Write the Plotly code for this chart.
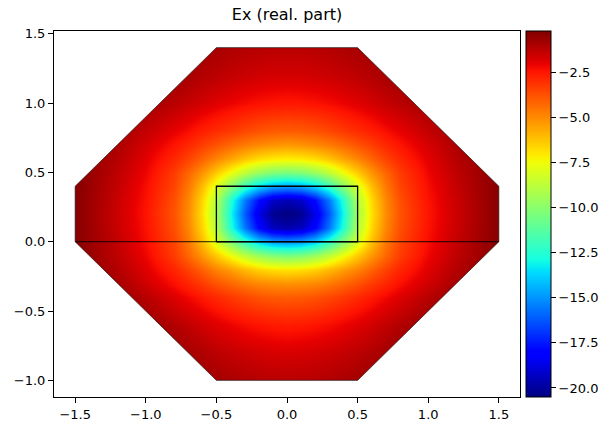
import plotly.graph_objects as go

# ---------------- data ----------------
title_text = "Ex (real. part)"

# grid columns for x >= 0 (field is mirror-symmetric in x)
x_half = [0.0, 0.1, 0.2, 0.3, 0.4, 0.5, 0.6, 0.7, 0.8, 1.0, 1.2, 1.5]
# grid rows, top to bottom
y_rows = [1.4, 1.2, 1.0, 0.8, 0.7, 0.6, 0.5, 0.4, 0.3, 0.2, 0.1, 0.0,
          -0.1, -0.2, -0.3, -0.4, -0.6, -0.8, -1.0]
# Ex values (real part) at (x_half, y_rows), top row first
ex_rows = [
    [-1.2, -1.2, -1.15, -1.1, -1.0, -0.9, -0.8, -0.7, -0.6, -0.45, -0.35, -0.25],
    [-1.7, -1.68, -1.62, -1.52, -1.4, -1.25, -1.1, -0.9, -0.75, -0.5, -0.35, -0.25],
    [-2.5, -2.46, -2.38, -2.25, -2.08, -1.88, -1.65, -1.42, -1.2, -0.8, -0.45, -0.25],
    [-4.0, -3.95, -3.8, -3.55, -3.25, -2.95, -2.65, -2.3, -2.0, -1.4, -0.8, -0.3],
    [-5.3, -5.2, -5.0, -4.7, -4.3, -3.8, -3.35, -2.85, -2.45, -1.7, -1.0, -0.3],
    [-7.2, -7.1, -6.8, -6.3, -5.6, -4.9, -4.15, -3.45, -2.85, -1.95, -1.15, -0.3],
    [-10.5, -10.3, -9.7, -8.8, -7.6, -6.4, -5.2, -4.2, -3.3, -2.15, -1.3, -0.3],
    [-15.0, -14.7, -13.8, -12.2, -10.2, -8.0, -6.1, -4.6, -3.5, -2.3, -1.4, -0.3],
    [-19.5, -19.2, -17.8, -15.5, -12.5, -8.9, -6.6, -4.9, -3.7, -2.4, -1.5, -0.3],
    [-20.5, -20.2, -18.7, -16.2, -13.0, -9.2, -6.8, -5.0, -3.8, -2.45, -1.55, -0.3],
    [-19.7, -19.4, -18.0, -15.6, -12.6, -8.9, -6.6, -4.9, -3.7, -2.4, -1.5, -0.3],
    [-15.0, -14.7, -13.8, -12.2, -10.2, -8.0, -6.1, -4.6, -3.5, -2.3, -1.4, -0.3],
    [-10.3, -10.1, -9.5, -8.6, -7.5, -6.3, -5.2, -4.2, -3.3, -2.15, -1.3, -0.3],
    [-6.9, -6.8, -6.5, -6.0, -5.4, -4.8, -4.1, -3.4, -2.8, -1.9, -1.1, -0.3],
    [-5.1, -5.05, -4.9, -4.6, -4.2, -3.75, -3.25, -2.8, -2.35, -1.6, -0.9, -0.3],
    [-4.0, -3.95, -3.8, -3.55, -3.25, -2.9, -2.55, -2.2, -1.85, -1.2, -0.6, -0.3],
    [-2.6, -2.55, -2.45, -2.3, -2.1, -1.88, -1.62, -1.35, -1.1, -0.6, -0.4, -0.3],
    [-1.75, -1.72, -1.65, -1.55, -1.42, -1.25, -1.05, -0.85, -0.6, -0.4, -0.3, -0.3],
    [-1.2, -1.18, -1.12, -1.05, -0.95, -0.82, -0.65, -0.5, -0.4, -0.3, -0.3, -0.3],
]
z_min, z_max = -20.5, -0.2

# geometry: octagonal domain, waveguide core, interface line
domain_x = [-1.5, -0.5, 0.5, 1.5, 1.5, 0.5, -0.5, -1.5, -1.5]
domain_y = [0.0, -1.0, -1.0, 0.0, 0.4, 1.4, 1.4, 0.4, 0.0]
core_x = [-0.5, 0.5, 0.5, -0.5, -0.5]
core_y = [0.0, 0.0, 0.4, 0.4, 0.0]
interface_x = [-1.5, 1.5]
interface_y = [0.0, 0.0]

x_ticks = [-1.5, -1.0, -0.5, 0.0, 0.5, 1.0, 1.5]
y_ticks = [-1.0, -0.5, 0.0, 0.5, 1.0, 1.5]
cbar_ticks = [-20.0, -17.5, -15.0, -12.5, -10.0, -7.5, -5.0, -2.5]

# ---------------- build ----------------
def fmt(v):
    return f"{v:.1f}".replace("-", "\u2212")

x_full = [-v for v in reversed(x_half[1:])] + x_half
z_full = [list(reversed(r[1:])) + r for r in ex_rows]
y_asc = list(reversed(y_rows))
z_asc = list(reversed(z_full))

# matplotlib 'jet'
jet = [
    [0.0, "rgb(0,0,128)"], [0.11, "rgb(0,0,255)"], [0.125, "rgb(0,0,255)"],
    [0.34, "rgb(0,219,255)"], [0.35, "rgb(0,230,247)"], [0.375, "rgb(21,255,226)"],
    [0.64, "rgb(239,255,8)"], [0.65, "rgb(247,245,0)"], [0.66, "rgb(255,236,0)"],
    [0.89, "rgb(255,19,0)"], [0.91, "rgb(232,0,0)"], [1.0, "rgb(128,0,0)"],
]

FONT = "DejaVu Sans"
L, R, T, B = 54, 520, 31, 400
W, H = 612, 434

fig = go.Figure()
fig.add_trace(go.Heatmap(
    x=x_full, y=y_asc, z=z_asc, zsmooth="best", colorscale=jet,
    zmin=z_min, zmax=z_max, hoverinfo="skip",
    colorbar=dict(
        x=(526 - L) / (R - L), xanchor="left", y=0.5, yanchor="middle",
        len=1, lenmode="fraction", thickness=25, thicknessmode="pixels",
        xpad=0, ypad=0, outlinewidth=1, outlinecolor="black",
        ticks="outside", ticklen=5, tickwidth=1, tickcolor="black",
        tickvals=cbar_ticks, ticktext=[fmt(v) for v in cbar_ticks],
        tickfont=dict(family=FONT, size=13, color="black"),
    ),
))

# white mask outside the domain (keyhole polygon, hole traversed the other way)
ox, oy = -3.0, 0.0
hole_x = list(reversed(domain_x))
hole_y = list(reversed(domain_y))
mask_x = [ox, -3, 3, 3, -3, ox] + hole_x + [ox]
mask_y = [oy, -3, -3, 3, 3, oy] + hole_y + [oy]
fig.add_trace(go.Scatter(x=mask_x, y=mask_y, mode="lines", fill="toself",
                         fillcolor="white", line=dict(width=0, color="white"),
                         hoverinfo="skip", showlegend=False))
fig.add_trace(go.Scatter(x=domain_x, y=domain_y, mode="lines",
                         line=dict(color="rgba(40,20,20,0.9)", width=0.8),
                         hoverinfo="skip", showlegend=False))
fig.add_trace(go.Scatter(x=interface_x, y=interface_y, mode="lines",
                         line=dict(color="black", width=0.9),
                         hoverinfo="skip", showlegend=False))
fig.add_trace(go.Scatter(x=core_x, y=core_y, mode="lines",
                         line=dict(color="black", width=1.3),
                         hoverinfo="skip", showlegend=False))

axis_common = dict(showline=True, mirror=True, linecolor="black", linewidth=1,
                   ticks="outside", ticklen=5, tickwidth=1, tickcolor="black",
                   showgrid=False, zeroline=False,
                   tickfont=dict(family=FONT, size=13, color="black"))
fig.update_layout(
    width=W, height=H,
    margin=dict(l=L, r=W - R, t=T, b=H - B, pad=0),
    paper_bgcolor="white", plot_bgcolor="white",
    showlegend=False,
    title=dict(text=title_text, x=(L + R) / 2 / W, xanchor="center",
               xref="container", yref="container", y=1 - 14 / H, yanchor="middle",
               font=dict(family=FONT, size=16, color="black")),
    xaxis=dict(range=[-1.65, 1.65], tickvals=x_ticks,
               ticktext=[fmt(v) for v in x_ticks], **axis_common),
    yaxis=dict(range=[-1.12, 1.52], tickvals=y_ticks,
               ticktext=[fmt(v) for v in y_ticks], **axis_common),
)

fig.write_html("out.html")
